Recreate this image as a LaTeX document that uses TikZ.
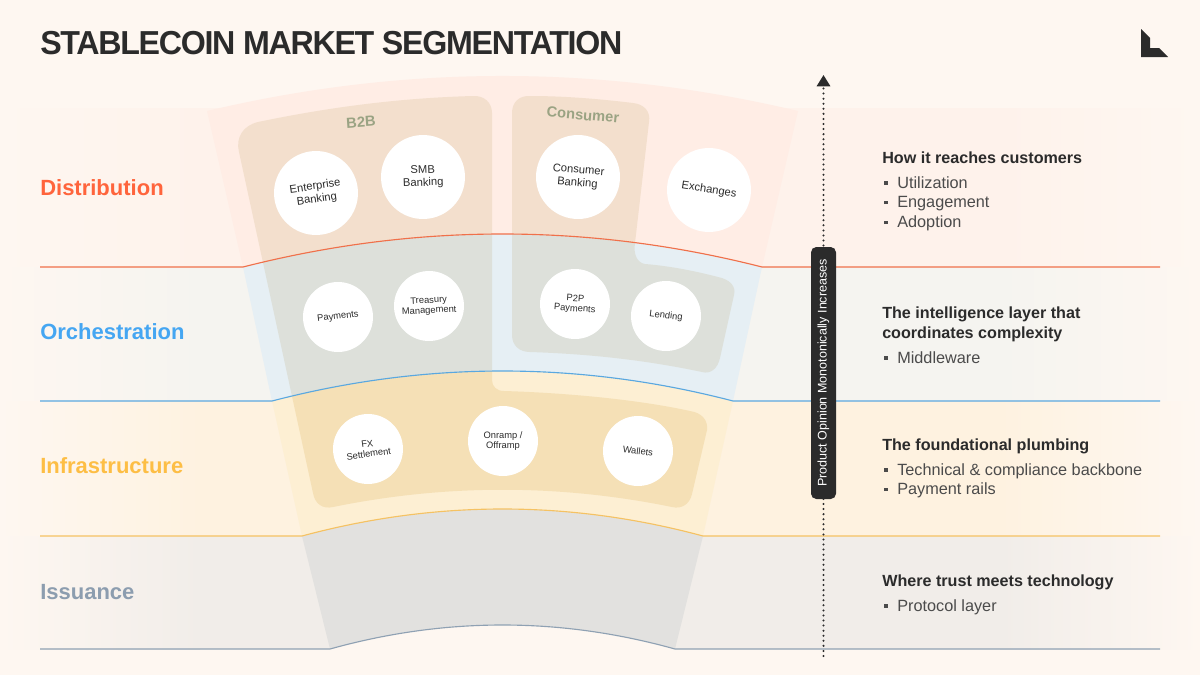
\documentclass[tikz,border=0pt]{standalone}
\usepackage{fontspec}
\setmainfont{Liberation Sans}
\usetikzlibrary{arrows.meta}
\definecolor{pagebg}{HTML}{FEF7F1}
\definecolor{inkc}{HTML}{2B2B2B}
\definecolor{bandD}{HTML}{FEF2EB}
\definecolor{bandO}{HTML}{F5F4F0}
\definecolor{bandI}{HTML}{FEF2E0}
\definecolor{bandS}{HTML}{F1EDE9}
\definecolor{funD}{HTML}{FFEDE5}
\definecolor{funO}{HTML}{E6EFF4}
\definecolor{funI}{HTML}{FDEFD3}
\definecolor{funS}{HTML}{E2E1DF}
\definecolor{panD}{HTML}{F3DFCD}
\definecolor{panO}{HTML}{DDE0DA}
\definecolor{panI}{HTML}{F5E0B6}
\definecolor{lineD}{HTML}{F0704A}
\definecolor{lineO}{HTML}{5AA8E0}
\definecolor{lineI}{HTML}{F5C263}
\definecolor{lineS}{HTML}{8FA1B3}
\definecolor{txtD}{HTML}{FF643C}
\definecolor{txtO}{HTML}{45A6F2}
\definecolor{txtI}{HTML}{FDBE45}
\definecolor{txtS}{HTML}{8C9DAF}
\definecolor{groupc}{HTML}{9AA383}
\def\RD{(207,111) .. controls (404,64.3) and (601,64.3) .. (798,111) -- (762,267) .. controls (589,223) and (416,223) .. (243,267) -- cycle}
\def\RO{(243,267) .. controls (416,223) and (589,223) .. (762,267) -- (733,401) .. controls (579.3,361) and (425.7,361) .. (272,401) -- cycle}
\def\RI{(272,401) .. controls (425.7,361) and (579.3,361) .. (733,401) -- (703,536) .. controls (569.3,500) and (435.7,500) .. (302,536) -- cycle}
\def\RS{(302,536) .. controls (435.7,500) and (569.3,500) .. (703,536) -- (675,649) .. controls (560,617) and (445,617) .. (330,649) -- cycle}
\def\PA{(239,152) .. controls (235.4,137.6) and (243,125.6) .. (258,122) .. controls (330,107) and (400,98) .. (473,96) .. controls (484.4,95.4) and (492,102.8) .. (492,113) -- (492,380) .. controls (492,386.6) and (496.8,391) .. (504,391) .. controls (570,393) and (640,400) .. (690,411) .. controls (702,412.8) and (708.2,420.4) .. (707,430) -- (692,494) .. controls (689.6,504.2) and (681.6,509.4) .. (672,507) .. controls (559,484) and (446,484) .. (333,507) .. controls (322.8,509.4) and (314.8,503.8) .. (313,493) -- cycle}
\def\PC{(512,113) .. controls (512,102.2) and (519.2,95.4) .. (530,96) .. controls (565,96) and (600,99) .. (633,103) .. controls (644.4,104.2) and (650.8,111.8) .. (649,122) -- (635,243) .. controls (633.2,254.4) and (637.2,262.8) .. (645,264) .. controls (670,266) and (695,271) .. (718,277) .. controls (730,279.4) and (736.4,286.6) .. (734,295) -- (720,358) .. controls (717.6,368.8) and (710.4,374.4) .. (702,372) .. controls (645,360) and (590,354) .. (530,352) .. controls (519.2,352) and (512,345.2) .. (512,335) -- cycle}
\tikzset{
  bubble/.style={circle,fill=white,inner sep=0pt,align=center,text=inkc},
  bigbubble/.style={bubble,minimum size=63pt,font=\fontsize{8.4}{9.6}\selectfont},
  smallbubble/.style={bubble,minimum size=52.5pt,font=\fontsize{7}{7.6}\selectfont},
  layerlabel/.style={anchor=base west,inner sep=0pt,font=\fontsize{16.5}{18}\selectfont\bfseries},
  grouplabel/.style={inner sep=0pt,text=groupc,font=\fontsize{11}{12}\selectfont\bfseries},
  headline/.style={anchor=base west,inner sep=0pt,text=inkc,font=\fontsize{12.1}{14}\selectfont\bfseries},
  itemline/.style={anchor=base west,inner sep=0pt,text=inkc!85!white,font=\fontsize{12.2}{14}\selectfont},
  layerline/.style={line width=0.85pt},
  pill/.style={rounded corners=4pt,fill=inkc,text=white,rotate=90,inner sep=0pt,minimum width=189pt,minimum height=18.75pt,font=\fontsize{9.4}{11}\selectfont}
}
\newcommand{\bulletitem}[1]{\makebox[11.25pt][l]{\hspace{1.5pt}\raisebox{2.6pt}{\rule{2.6pt}{2.6pt}}}#1}
\begin{document}
\begin{tikzpicture}[x=0.75pt,y=-0.75pt]
\useasboundingbox (0,0) rectangle (1200,675);
\fill[pagebg] (0,0) rectangle (1200,675);
% bands with horizontal fades
\foreach \ya/\yb/\c in {108/267/bandD,267/401/bandO,401/536/bandI,536/649/bandS}{
  \shade[left color=pagebg,right color=\c] (0,\ya) rectangle (200,\yb);
  \fill[\c] (199,\ya) rectangle (1001,\yb);
  \shade[left color=\c,right color=pagebg] (1000,\ya) rectangle (1200,\yb);
}
% funnel
\fill[funD] \RD;
\fill[funO] \RO;
\fill[funI] \RI;
\fill[funS] \RS;
\fill[pagebg] (330,649) .. controls (445,617) and (560,617) .. (675,649) -- cycle;
% panels
\begin{scope}\clip \RD; \fill[panD] \PA; \fill[panD] \PC; \end{scope}
\begin{scope}\clip \RO; \fill[panO] \PA; \fill[panO] \PC; \end{scope}
\begin{scope}\clip \RI; \fill[panI] \PA; \end{scope}
% layer lines
\coordinate (d0) at (40,267); \coordinate (d1) at (243,267); \coordinate (d2) at (762,267); \coordinate (d3) at (1160,267);
\coordinate (o0) at (40,401); \coordinate (o1) at (272,401); \coordinate (o2) at (733,401); \coordinate (o3) at (1160,401);
\coordinate (i0) at (40,536); \coordinate (i1) at (302,536); \coordinate (i2) at (703,536); \coordinate (i3) at (1160,536);
\coordinate (s0) at (40,649); \coordinate (s1) at (330,649); \coordinate (s2) at (675,649); \coordinate (s3) at (1160,649);
\draw[layerline,lineD] (d0) -- (d1) .. controls (416,223) and (589,223) .. (d2) -- (d3);
\draw[layerline,lineO] (o0) -- (o1) .. controls (425.7,361) and (579.3,361) .. (o2) -- (o3);
\draw[layerline,lineI] (i0) -- (i1) .. controls (435.7,500) and (569.3,500) .. (i2) -- (i3);
\draw[layerline,lineS] (s0) -- (s1) .. controls (445,617) and (560,617) .. (s2) -- (s3);
% title and logo
\node[anchor=west,inner sep=0pt,text=inkc] (title) at (40,43.5) {\resizebox{436.5pt}{17.4pt}{\bfseries\addfontfeature{LetterSpace=-4}STABLECOIN MARKET SEGMENTATION}};
\fill[inkc] (1141,29) -- (1150,38) -- (1150,48) -- (1159,48) -- (1168,57) -- (1141,57) -- cycle;
% left labels
\node[layerlabel,text=txtD] (lD) at (40,195.5) {Distribution};
\node[layerlabel,text=txtO] (lO) at (40,339) {Orchestration};
\node[layerlabel,text=txtI] (lI) at (40,473.5) {Infrastructure};
\node[layerlabel,text=txtS] (lS) at (40,599) {Issuance};
% group labels
\node[grouplabel,rotate=4] (b2b) at (361,122) {B2B};
\node[grouplabel,rotate=-5] (cons) at (583,115) {Consumer};
% bubbles
\node[bigbubble,rotate=8] (ent) at (316,193) {Enterprise\\Banking};
\node[bigbubble,rotate=2] (smb) at (423,177) {SMB\\Banking};
\node[bigbubble,rotate=-5] (cbk) at (578,177) {Consumer\\Banking};
\node[bigbubble,rotate=-9] (exc) at (709,190) {Exchanges};
\node[smallbubble,rotate=7] (pay) at (338,317) {Payments};
\node[smallbubble,rotate=3] (tre) at (429,306) {Treasury\\Management};
\node[smallbubble,rotate=-4] (p2p) at (575,304) {P2P\\Payments};
\node[smallbubble,rotate=-7] (len) at (666,316) {Lending};
\node[smallbubble,rotate=8] (fxs) at (368,449) {FX\\Settlement};
\node[smallbubble] (onr) at (503,441) {Onramp /\\Offramp};
\node[smallbubble,rotate=-7] (wal) at (638,451) {Wallets};
% axis
\coordinate (axisfoot) at (823.5,656);
\coordinate (axishead) at (823.5,75);
\draw[inkc,line width=1.7pt,line cap=round,dash pattern=on 0pt off 3.8pt,-{Triangle[length=8.5pt,width=10pt]}] (axisfoot) -- (axishead);
\node[pill] (axislabel) at (823.5,373) {Product Opinion Monotonically Increases};
% right text
\node[headline] (h1) at (882,163) {How it reaches customers};
\node[itemline] (t1a) at (882,188) {\bulletitem{Utilization}};
\node[itemline] (t1b) at (882,207.5) {\bulletitem{Engagement}};
\node[itemline] (t1c) at (882,227.5) {\bulletitem{Adoption}};
\node[headline] (h2a) at (882,318) {The intelligence layer that};
\node[headline] (h2b) at (882,338) {coordinates complexity};
\node[itemline] (t2a) at (882,363) {\bulletitem{Middleware}};
\node[headline] (h3) at (882,450) {The foundational plumbing};
\node[itemline] (t3a) at (882,475) {\bulletitem{Technical \& compliance backbone}};
\node[itemline] (t3b) at (882,494.5) {\bulletitem{Payment rails}};
\node[headline] (h4) at (882,586.5) {Where trust meets technology};
\node[itemline] (t4a) at (882,611) {\bulletitem{Protocol layer}};
\end{tikzpicture}
\end{document}
